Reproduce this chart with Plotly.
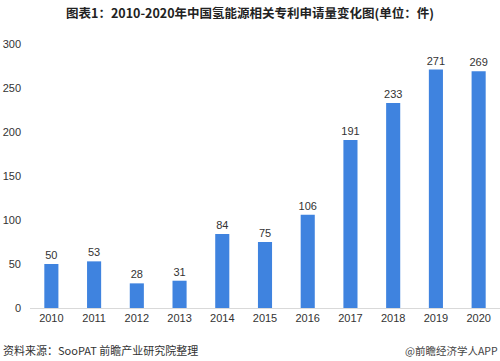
import plotly.graph_objects as go

years = ["2010", "2011", "2012", "2013", "2014", "2015", "2016", "2017", "2018", "2019", "2020"]
patents = [50, 53, 28, 31, 84, 75, 106, 191, 233, 271, 269]
y_ticks = [0, 50, 100, 150, 200, 250, 300]

fig = go.Figure(go.Bar(
    x=years, y=patents,
    marker=dict(color="#3F83DF", line=dict(width=0)),
    text=[str(v) for v in patents], textposition="outside",
    constraintext="none",
    textfont=dict(size=11, color="#333333", family="Liberation Sans, Arial"),
    cliponaxis=False,
))

fig.update_layout(
    width=500, height=361,
    margin=dict(l=30, r=0, t=44, b=53),
    paper_bgcolor="white", plot_bgcolor="white",
    bargap=0.67,
    showlegend=False,
    font=dict(family="Liberation Sans, Arial, Noto Sans CJK SC", size=11, color="#333333"),
    title=dict(text="<b>图表1：2010-2020年中国氢能源相关专利申请量变化图(单位：件)</b>",
               x=0.5, xanchor="center", y=0.962, yanchor="middle",
               font=dict(size=12.5, color="#222222", family="Noto Sans CJK SC, Liberation Sans")),
    xaxis=dict(type="category", showgrid=False, showline=True, linecolor="#D9D9D9", linewidth=1,
               ticks="", tickfont=dict(size=11, color="#333333")),
    yaxis=dict(range=[0, 300], tickvals=y_ticks, showgrid=False, zeroline=False, showline=False,
               ticks="", tickfont=dict(size=11, color="#333333"), ticklabelstandoff=8),
)

fig.add_annotation(text="资料来源：SooPAT 前瞻产业研究院整理", xref="paper", yref="paper",
                   x=-0.062, y=-0.16, xanchor="left", yanchor="middle", showarrow=False,
                   font=dict(size=11, color="#333333", family="Noto Sans CJK SC, Liberation Sans"))
fig.add_annotation(text="@前瞻经济学人APP", xref="paper", yref="paper",
                   x=1.0, y=-0.16, xanchor="right", yanchor="middle", showarrow=False,
                   font=dict(size=10.5, color="#444444", family="Noto Sans CJK SC, Liberation Sans"))

fig.write_html("out.html", config={"displayModeBar": False},
               post_script="document.body.style.margin='0';")
